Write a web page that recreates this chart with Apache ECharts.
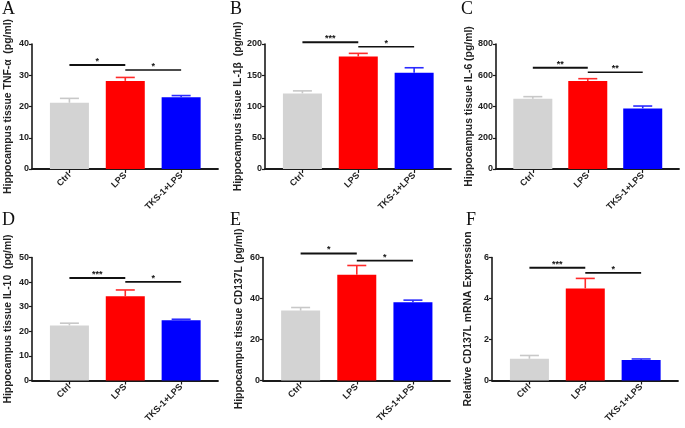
<!DOCTYPE html>
<html>
<head>
<meta charset="utf-8">
<script src="https://cdn.jsdelivr.net/npm/echarts@6/dist/echarts.min.js"></script>
<style>html,body{margin:0;padding:0;background:#fff}#c{width:685px;height:428px}</style>
</head>
<body>
<div id="c"></div>
<script>
// ---- data ----
const categories = ['Ctrl', 'LPS', 'TKS-1+LPS'];
const panelLetters = ['A', 'B', 'C', 'D', 'E', 'F'];
const yTitles = [
  'Hippocampus tissue TNF-\u03b1  (pg/ml)',
  'Hippocampus tissue IL-1\u03b2  (pg/ml)',
  'Hippocampus tissue IL-6 (pg/ml)',
  'Hippocampus tissue IL-10  (pg/ml)',
  'Hippocampus tissue CD137L (pg/ml)',
  'Relative CD137L mRNA Expression'
];
const yMax = [40, 200, 800, 50, 60, 6];
const yInterval = [10, 50, 200, 10, 20, 2];
const meansA = [21.2, 28.2, 23.0];
const errA = [1.4, 1.1, 0.5];
const meansB = [121, 180, 154];
const errB = [4, 5, 8];
const meansC = [450, 563, 388];
const errC = [13, 15, 15];
const meansD = [22.4, 34.2, 24.5];
const errD = [0.9, 2.6, 0.4];
const meansE = [34.1, 51.6, 38.2];
const errE = [1.5, 4.5, 1.0];
const meansF = [1.06, 4.49, 1.0];
const errF = [0.16, 0.49, 0.05];
// significance brackets: [fromCategory, toCategory, level, label]
const sigA = [[0, 1, 33.3, '*'], [1, 2, 31.7, '*']];
const sigB = [[0, 1, 202.7, '***'], [1, 2, 195.7, '*']];
const sigC = [[0, 1, 648, '**'], [1, 2, 619, '**']];
const sigD = [[0, 1, 41.7, '***'], [1, 2, 40.1, '*']];
const sigE = [[0, 1, 62, '*'], [1, 2, 58.5, '*']];
const sigF = [[0, 1, 5.5, '***'], [1, 2, 5.25, '*']];

// ---- layout / style ----
const barColors = ['#d3d3d3', '#ff0000', '#0000ff'];
const errColors = ['#c8c8c8', '#ff2a2a', '#2a2aff'];
const grids = [
  {left: 32, top: 44, width: 186, height: 125},
  {left: 265, top: 44, width: 186, height: 125},
  {left: 496, top: 44, width: 183, height: 125},
  {left: 32, top: 257.5, width: 186, height: 123},
  {left: 263, top: 257.5, width: 187, height: 123},
  {left: 492, top: 257.5, width: 186, height: 123}
];
const letterPos = [[2, 0], [230, 0], [461, 0], [2, 211], [230, 211], [466, 211]];
const X_OFF = 0.67, X_MAX = 3.33;
const xPos = categories.map((c, i) => i + X_OFF);
const means = [meansA, meansB, meansC, meansD, meansE, meansF];
const errs = [errA, errB, errC, errD, errE, errF];
const sigs = [sigA, sigB, sigC, sigD, sigE, sigF];

const font = "'Liberation Sans', Arial, sans-serif";
const axisColor = '#1a1a1a';

const option = {
  animation: false,
  backgroundColor: '#fff',
  title: panelLetters.map((t, i) => ({
    text: t, left: letterPos[i][0], top: letterPos[i][1], padding: 0,
    textStyle: {fontFamily: "'Liberation Serif', 'Times New Roman', serif", fontWeight: 'normal', fontSize: 18, color: '#111'}
  })),
  grid: grids.map(g => Object.assign({outerBoundsMode: 'none', containLabel: false}, g)),
  xAxis: grids.map((g, i) => ({
    type: 'value', gridIndex: i, min: 0, max: X_MAX,
    axisLine: {show: true, onZero: false, lineStyle: {color: axisColor, width: 1.8}},
    axisTick: {show: true, customValues: xPos, length: 4, lineStyle: {color: axisColor, width: 1.2}},
    axisLabel: {
      show: true, customValues: xPos, rotate: 45, margin: 5,
      fontFamily: font, fontWeight: 'bold', fontSize: 9, color: '#222',
      formatter: v => categories[Math.round(v - X_OFF)]
    },
    splitLine: {show: false}
  })),
  yAxis: grids.map((g, i) => ({
    type: 'value', gridIndex: i, min: 0, max: yMax[i], interval: yInterval[i],
    name: yTitles[i], nameLocation: 'middle', nameRotate: 90, nameGap: 19,
    nameTextStyle: {fontFamily: font, fontWeight: 'bold', fontSize: 10.4, color: '#222'},
    axisLine: {show: true, onZero: false, lineStyle: {color: axisColor, width: 1.6}},
    axisTick: {show: true, length: 3, lineStyle: {color: axisColor, width: 1.2}},
    axisLabel: {fontFamily: font, fontWeight: 'bold', fontSize: 9, color: '#222', margin: 3},
    splitLine: {show: false}
  })),
  series: []
};

means.forEach((m, p) => {
  option.series.push({
    type: 'bar', xAxisIndex: p, yAxisIndex: p, barWidth: 39,
    data: m.map((v, i) => ({value: [xPos[i], v], itemStyle: {color: barColors[i]}}))
  });
  option.series.push({
    type: 'custom', xAxisIndex: p, yAxisIndex: p, clip: false, z: 3,
    data: m.map((v, i) => [xPos[i], v, errs[p][i], i]),
    renderItem: (params, api) => {
      const x = api.value(0), y = api.value(1), e = api.value(2), ci = api.value(3);
      const a = api.coord([x, y]), b = api.coord([x, y + e]);
      const st = {stroke: errColors[ci], lineWidth: 1.6};
      return {type: 'group', children: [
        {type: 'line', shape: {x1: a[0], y1: a[1], x2: b[0], y2: b[1]}, style: st},
        {type: 'line', shape: {x1: b[0] - 9.5, y1: b[1], x2: b[0] + 9.5, y2: b[1]}, style: st}
      ]};
    }
  });
  option.series.push({
    type: 'custom', xAxisIndex: p, yAxisIndex: p, clip: false, z: 4,
    data: sigs[p].map((s, k) => [xPos[s[0]], xPos[s[1]], s[2], k]),
    renderItem: (params, api) => {
      const k = api.value(3);
      const s = sigs[p][k];
      const a = api.coord([api.value(0), api.value(2)]);
      const b = api.coord([api.value(1), api.value(2)]);
      return {type: 'group', children: [
        {type: 'line', shape: {x1: a[0], y1: a[1], x2: b[0], y2: b[1]},
         style: {stroke: '#111', lineWidth: k === 0 ? 2 : 1.6}},
        {type: 'text', x: (a[0] + b[0]) / 2, y: a[1] + 1,
         style: {text: s[3], fill: '#111', font: 'bold 9px ' + font, align: 'center', verticalAlign: 'bottom'}}
      ]};
    }
  });
});

const chart = echarts.init(document.getElementById('c'), null, {renderer: 'canvas'});
chart.setOption(option);
</script>
</body>
</html>
